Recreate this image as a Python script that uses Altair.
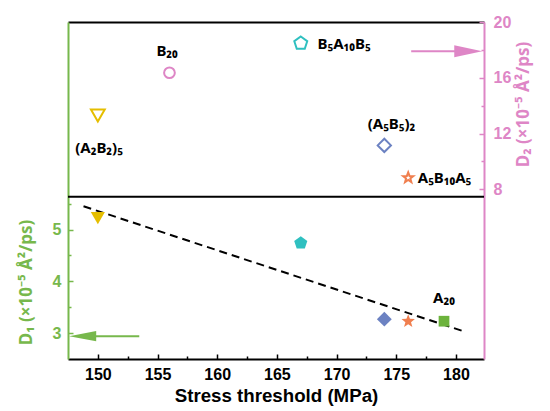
import altair as alt
import pandas as pd

# ---------------- data ----------------
names = ["(A2B2)5", "B20", "B5A10B5", "(A5B5)2", "A5B10A5", "A20"]
stress = [150, 156, 167, 174, 176, 179]
d1_vals = [5.22, None, 4.74, 3.27, 3.23, 3.23]
d2_vals = [13.3, 16.36, 18.47, 11.15, 8.83, None]

# labels (text, x, y) -- top panel labels refer to D2, A20 label refers to D1
lab_c_text = ["B₂₀", "(A₂B₂)₅", "(A₅B₅)₂"]
lab_c_x = [155.8, 150.1, 174.6]
lab_c_y = [17.95, 10.95, 12.65]
lab_l_text = ["B₅A₁₀B₅", "A₅B₁₀A₅"]
lab_l_x = [168.4, 176.8]
lab_l_y = [18.45, 8.83]
lab_d1_text = ["A₂₀"]
lab_d1_x = [179.0]
lab_d1_y = [3.68]

# dashed linear fit
fit_x = [148.8, 180.7]
fit_y = [5.45, 3.03]

# tick values
x_major = [150, 155, 160, 165, 170, 175, 180]
x_minor = [152.5, 157.5, 162.5, 167.5, 172.5, 177.5]
d1_major = [3, 4, 5]
d1_minor = [3.5, 4.5, 5.5]
d2_major = [8, 12, 16, 20]
d2_minor = [10, 14, 18]

# ---------------- style ----------------
FONT = "Liberation Sans"
LFONT = "Noto Sans"
GREEN = "#77B84C"
PINK = "#DE86C6"
W, H = 416, 337

PENTAGON = "M0,-1L0.951,-0.309L0.588,0.809L-0.588,0.809L-0.951,-0.309Z"
STAR = ("M0,-1L0.247,-0.34L0.951,-0.309L0.399,0.13L0.588,0.809L0,0.42"
        "L-0.588,0.809L-0.399,0.13L-0.951,-0.309L-0.247,-0.34Z")
ARROW_R = "M-1,-0.43L1,0L-1,0.43Z"
ARROW_L = "M1,-0.38L-1,0L1,0.38Z"

shapes = ["triangle-down", "circle", PENTAGON, "diamond", STAR, "square"]
colors = ["#E5BE00", PINK, "#2FC0C0", "#6C82C2", "#F07F4F", "#6CB33C"]
sizes_filled = [200, 130, 190, 220, 200, 115]
sizes_open = [190, 115, 185, 175, 115, 115]

xs = alt.Scale(domain=[147.5, 182.35], nice=False, zero=False)
y1s = alt.Scale(domain=[2.5, 9.01], nice=False, zero=False)
y2s = alt.Scale(domain=[-4.17, 20], nice=False, zero=False)

df = pd.DataFrame({"name": names, "stress": stress, "d1": d1_vals, "d2": d2_vals,
                   "sf": sizes_filled, "so": sizes_open})
df1 = df.dropna(subset=["d1"])
df2 = df.dropna(subset=["d2"])
fit_df = pd.DataFrame({"x": fit_x, "y": fit_y})

shape_enc = alt.Shape("name:N", scale=alt.Scale(domain=names, range=shapes), legend=None)
color_enc = alt.Color("name:N", scale=alt.Scale(domain=names, range=colors), legend=None)


def tick_axis(orient, offset, values, size, color):
    return alt.Axis(orient=orient, offset=offset, values=values, labels=False, domain=False,
                    ticks=True, tickSize=size, tickColor=color, tickWidth=1.5,
                    title=None, grid=False)


# dashed fit + main bottom and left axes
fit = alt.Chart(fit_df).mark_line(color="black", strokeDash=[8, 5], strokeWidth=2).encode(
    x=alt.X("x:Q", scale=xs, axis=alt.Axis(
        orient="bottom", values=x_major, ticks=False, domainColor="black", domainWidth=2,
        labelFont=FONT, labelFontSize=16, labelFontWeight="bold", labelColor="black",
        labelPadding=7, title="Stress threshold (MPa)", titleFont=FONT, titleFontSize=18.7,
        titleFontWeight="bold", titleColor="black", titlePadding=4, grid=False)),
    y=alt.Y("y:Q", scale=y1s, axis=alt.Axis(
        orient="left", values=d1_major, ticks=False, domainColor=GREEN, domainWidth=2,
        labelFont=FONT, labelFontSize=16, labelFontWeight="bold", labelColor=GREEN,
        labelPadding=7, title="D₁ (×10⁻⁵ Å²/ps)", titleFont=LFONT, titleFontSize=17,
        titleFontWeight="bold", titleColor=GREEN, titleY=260, titleX=-42,
        titleBaseline="middle", grid=False)),
)

# D1 filled symbols
pts1 = alt.Chart(df1).mark_point(filled=True, opacity=1).encode(
    x=alt.X("stress:Q", scale=xs, axis=tick_axis("top", -H, x_major, 5, "black")),
    y=alt.Y("d1:Q", scale=y1s, axis=tick_axis("right", -W, d1_major, 5, GREEN)),
    shape=shape_enc, color=color_enc,
    size=alt.Size("sf:Q", scale=None, legend=None),
)

# D2 open symbols + right axis
pts2 = alt.Chart(df2).mark_point(filled=False, opacity=1, strokeWidth=2).encode(
    x=alt.X("stress:Q", scale=xs, axis=tick_axis("top", -H, x_minor, 3, "black")),
    y=alt.Y("d2:Q", scale=y2s, axis=alt.Axis(
        orient="right", values=d2_major, ticks=False, domainColor=PINK, domainWidth=2,
        labelFont=FONT, labelFontSize=16, labelFontWeight="bold", labelColor=PINK,
        labelPadding=9, title="D₂ (×10⁻⁵ Å²/ps)", titleFont=LFONT, titleFontSize=17,
        titleFontWeight="bold", titleColor=PINK, titleAngle=270, titleY=82, titleX=39,
        titleBaseline="middle", grid=False)),
    shape=shape_enc, color=color_enc,
    size=alt.Size("so:Q", scale=None, legend=None),
)

lab_c = alt.Chart(pd.DataFrame({"t": lab_c_text, "x": lab_c_x, "y": lab_c_y})).mark_text(
    font=LFONT, fontSize=15, fontWeight="bold", color="black", align="center", baseline="middle"
).encode(
    x=alt.X("x:Q", scale=xs, axis=alt.Axis(orient="top", domain=True, domainColor="black",
                                            domainWidth=2, ticks=False, labels=False,
                                            title=None, grid=False)),
    y=alt.Y("y:Q", scale=y2s, axis=tick_axis("left", -W, d2_major, 5, PINK)),
    text="t:N",
)

lab_l = alt.Chart(pd.DataFrame({"t": lab_l_text, "x": lab_l_x, "y": lab_l_y})).mark_text(
    font=LFONT, fontSize=15, fontWeight="bold", color="black", align="left", baseline="middle"
).encode(
    x=alt.X("x:Q", scale=xs, axis=None),
    y=alt.Y("y:Q", scale=y2s, axis=tick_axis("left", -W, d2_minor, 3, PINK)),
    text="t:N",
)

lab_1 = alt.Chart(pd.DataFrame({"t": lab_d1_text, "x": lab_d1_x, "y": lab_d1_y})).mark_text(
    font=LFONT, fontSize=15, fontWeight="bold", color="black", align="center", baseline="middle"
).encode(
    x=alt.X("x:Q", scale=xs, axis=None),
    y=alt.Y("y:Q", scale=y1s, axis=tick_axis("right", -W, d1_minor, 3, GREEN)),
    text="t:N",
)

# divider between the two panels
mid = alt.Chart(pd.DataFrame({"y": [5.633]})).mark_rule(color="black", strokeWidth=2).encode(
    y=alt.Y("y:Q", scale=y1s, axis=None))

# arrows pointing at the axes
pink_line = alt.Chart(pd.DataFrame({"x": [176.25], "x2": [181.0], "y": [17.9]})).mark_rule(
    color=PINK, strokeWidth=2).encode(
    x=alt.X("x:Q", scale=xs, axis=None), x2="x2:Q", y=alt.Y("y:Q", scale=y2s, axis=None))
pink_head = alt.Chart(pd.DataFrame({"x": [181.03], "y": [17.9]})).mark_point(
    shape=ARROW_R, filled=True, opacity=1, color=PINK, size=784).encode(
    x=alt.X("x:Q", scale=xs, axis=None), y=alt.Y("y:Q", scale=y2s, axis=None))

green_line = alt.Chart(pd.DataFrame({"x": [148.7], "x2": [153.47], "y": [2.94]})).mark_rule(
    color=GREEN, strokeWidth=2).encode(
    x=alt.X("x:Q", scale=xs, axis=None), x2="x2:Q", y=alt.Y("y:Q", scale=y1s, axis=None))
green_head = alt.Chart(pd.DataFrame({"x": [148.73], "y": [2.94]})).mark_point(
    shape=ARROW_L, filled=True, opacity=1, color=GREEN, size=729).encode(
    x=alt.X("x:Q", scale=xs, axis=None), y=alt.Y("y:Q", scale=y1s, axis=None))

chart = alt.layer(
    mid, fit, pink_line, pink_head, green_line, green_head, pts1, pts2, lab_c, lab_l, lab_1
).resolve_scale(
    x="independent", y="independent", color="shared", shape="shared"
).resolve_axis(
    x="independent", y="independent"
).properties(
    width=W, height=H, background="white", padding={"left": 9, "top": 6, "right": 5, "bottom": 5}
).configure_view(stroke=None)

chart.save("out.html", embed_options={"renderer": "svg", "actions": False})
